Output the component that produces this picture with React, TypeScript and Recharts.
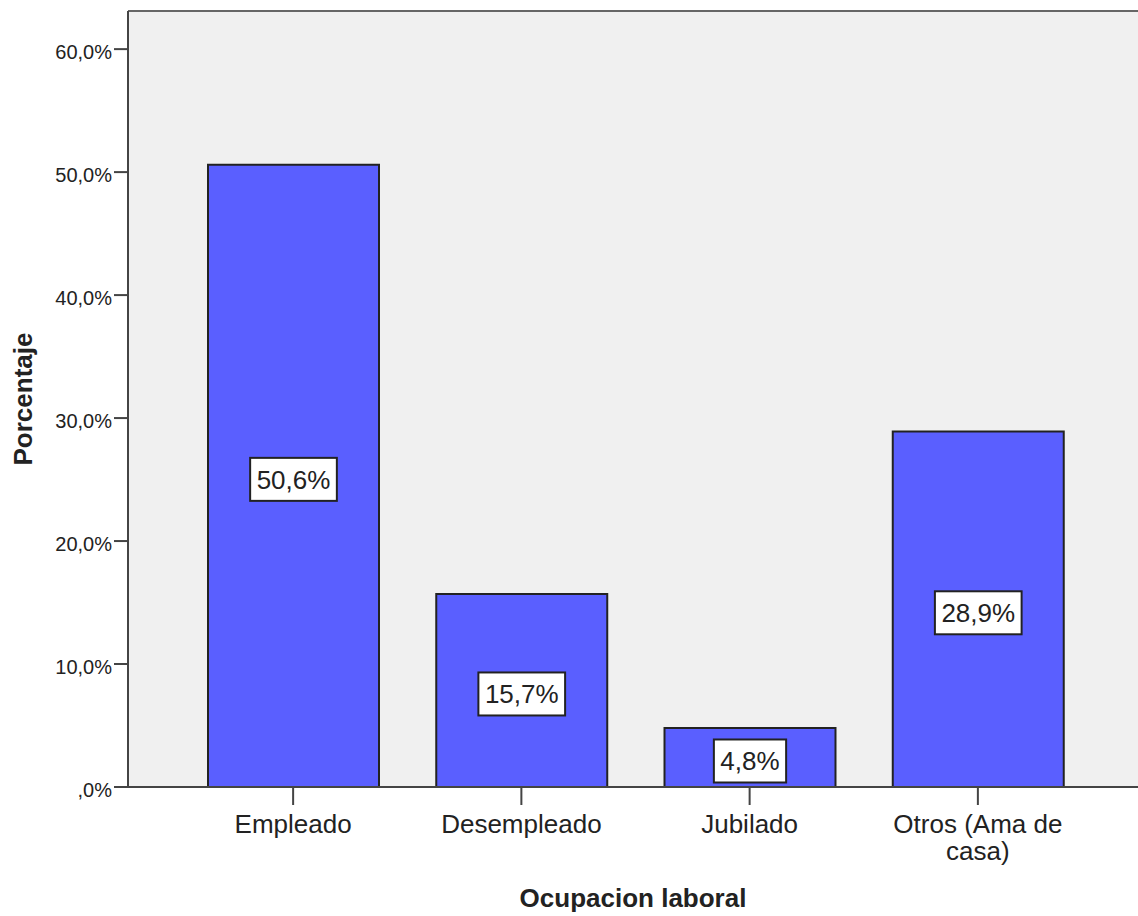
import React from 'react';
import { BarChart, Bar, XAxis, YAxis, CartesianGrid, ReferenceLine, LabelList, Label } from 'recharts';

const categories = ['Empleado', 'Desempleado', 'Jubilado', 'Otros (Ama de casa)'];
const percentages = [50.6, 15.7, 4.8, 28.9];
const yTicks = [0, 10, 20, 30, 40, 50, 60];
const yMax = 63.1;

const data = categories.map((c, i) => ({ name: c, value: percentages[i] }));

const FONT = '"Liberation Sans", Arial, Helvetica, sans-serif';
const TEXT = '#222';
const AXIS = '#444';

const fmt = (v: number) => (v === 0 ? ',0%' : v.toFixed(1).replace('.', ',') + '%');

const charW = (ch: string) => (ch === ',' ? 0.278 : ch === '%' ? 0.889 : 0.556);
const textW = (s: string) => s.split('').reduce((a, c) => a + charW(c), 0);

const wrap = (s: string, max = 13) => {
  const words = s.split(' ');
  const lines: string[] = [];
  let cur = '';
  words.forEach((w) => {
    const next = cur ? cur + ' ' + w : w;
    if (next.length > max && cur) {
      lines.push(cur);
      cur = w;
    } else cur = next;
  });
  if (cur) lines.push(cur);
  return lines;
};

const XTick = (props: any) => {
  const { x, y, payload } = props;
  const lines = wrap(String(payload.value));
  return (
    <g>
      <text x={x} y={y} textAnchor="middle" fontFamily={FONT} fontSize={26} fill={TEXT}>
        {lines.map((l, i) => (
          <tspan key={i} x={x} dy={i === 0 ? 26 : 27}>
            {l}
          </tspan>
        ))}
      </text>
    </g>
  );
};

const YTick = (props: any) => {
  const { x, y, payload } = props;
  return (
    <text x={x} y={y + 10} textAnchor="end" fontFamily={FONT} fontSize={20} fill={TEXT}>
      {fmt(Number(payload.value))}
    </text>
  );
};

const ValueLabel = (props: any) => {
  const { x, y, width, height, value } = props;
  const cx = Number(x) + Number(width) / 2;
  const cy = Number(y) + Number(height) / 2 + 3.5;
  const txt = fmt(Number(value));
  const fs = 26;
  const bw = textW(txt) * fs + 13;
  const bh = 43;
  return (
    <g>
      <rect x={cx - bw / 2} y={cy - bh / 2} width={bw} height={bh} fill="#ffffff" stroke="#222" strokeWidth={2} />
      <text x={cx} y={cy + 9.3} textAnchor="middle" fontFamily={FONT} fontSize={fs} fill={TEXT}>
        {txt}
      </text>
    </g>
  );
};

export default function App() {
  return (
    <div style={{ position: 'absolute', left: 0, top: 0, width: 1138, height: 916, background: '#fff' }}>
      <BarChart width={1138} height={916} data={data} margin={{ top: 11, right: 0, bottom: 0, left: 0 }}>
        <CartesianGrid fill="#F0F0F0" horizontal={false} vertical={false} stroke="none" />
        <XAxis
          dataKey="name"
          type="category"
          height={129}
          padding={{ left: 51, right: 46 }}
          tick={<XTick />}
          tickSize={18}
          tickMargin={2}
          axisLine={{ stroke: AXIS, strokeWidth: 2 }}
          tickLine={{ stroke: AXIS, strokeWidth: 2 }}
          interval={0}
        >
          <Label
            value="Ocupacion laboral"
            position="insideBottom"
            offset={9}
            style={{ fontFamily: FONT, fontSize: 26, fontWeight: 'bold', fill: TEXT }}
          />
        </XAxis>
        <YAxis
          type="number"
          width={128}
          domain={[0, yMax]}
          ticks={yTicks}
          allowDataOverflow
          tickSize={14}
          tickMargin={2}
          tick={<YTick />}
          axisLine={{ stroke: AXIS, strokeWidth: 2 }}
          tickLine={{ stroke: AXIS, strokeWidth: 2 }}
        >
          <Label
            value="Porcentaje"
            angle={-90}
            position="insideLeft"
            offset={23}
            style={{ fontFamily: FONT, fontSize: 26, fontWeight: 'bold', fill: TEXT, textAnchor: 'middle' }}
          />
        </YAxis>
        <ReferenceLine y={yMax} stroke="#666" strokeWidth={2} />
        <Bar dataKey="value" fill="#5A5FFF" stroke="#222" strokeWidth={2} barSize={171} isAnimationActive={false}>
          <LabelList dataKey="value" content={<ValueLabel />} />
        </Bar>
      </BarChart>
    </div>
  );
}
